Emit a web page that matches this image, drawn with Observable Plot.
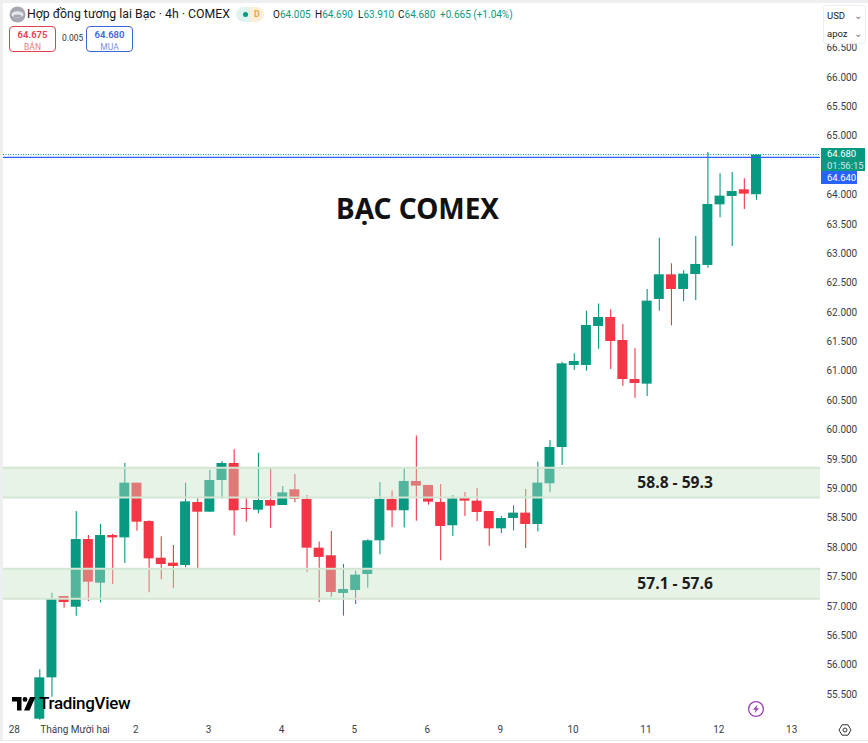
<!DOCTYPE html>
<html lang="vi"><head><meta charset="utf-8">
<script src="https://cdn.jsdelivr.net/npm/d3@7"></script>
<script src="https://cdn.jsdelivr.net/npm/@observablehq/plot@0.6"></script>
<style>
html,body{margin:0;padding:0;background:#fff;overflow:hidden}
#page{position:relative;width:868px;height:743px;overflow:hidden;font-family:Roboto,"Noto Sans",sans-serif;color:#131722}
#page svg.plot{position:absolute;left:0;top:0}
.a{position:absolute;white-space:nowrap}
.tag{position:absolute;box-sizing:border-box;border-radius:4px;background:#fff;text-align:center;width:47px;height:26px;top:26px;font-weight:600;font-size:9.5px;line-height:12px;padding-top:2px}
.tag span{display:block;font-weight:400;font-size:8.5px;opacity:.7}
.g{color:#089981}
</style></head><body><div id="page"></div>
<script>
// Candles: open, high, low, close
const open  = [55.079,55.783,57.167,56.985,58.137,57.394,58.205,58.165,59.096,58.443,57.819,57.734,57.695,58.767,58.602,59.141,59.431,58.665,58.636,58.801,58.716,58.983,58.819,57.990,57.860,57.219,57.270,57.542,58.115,58.819,58.626,59.125,59.057,58.768,58.371,58.841,58.790,58.614,58.319,58.495,58.586,58.393,59.085,59.703,61.099,61.099,61.762,61.916,61.524,60.860,60.781,62.222,62.642,62.392,62.647,62.801,63.833,63.975,64.088,64.005];
const high  = [55.919,57.224,57.167,58.614,58.205,58.392,58.228,59.431,59.096,58.455,58.182,58.035,59.096,58.846,59.311,59.465,59.663,58.846,59.606,59.357,59.039,59.244,58.887,58.093,58.274,57.712,57.599,58.132,59.108,58.961,59.352,59.897,59.057,59.074,58.887,58.938,59.006,58.614,58.529,58.711,58.989,59.454,59.823,61.155,61.297,62.023,62.143,62.046,61.796,61.388,62.392,63.266,62.829,62.710,63.294,64.724,64.361,64.383,64.276,64.690];
const low   = [55.060,55.454,56.968,56.832,57.082,57.059,57.371,57.729,58.279,57.229,57.451,57.309,57.655,57.638,58.602,58.824,58.200,58.432,58.574,58.330,58.716,58.762,57.582,57.066,57.156,56.833,57.032,57.310,57.877,58.342,58.331,58.450,58.722,57.775,58.189,58.529,58.444,58.024,58.240,58.285,57.985,58.263,58.932,59.397,61.014,61.002,61.377,61.031,60.747,60.543,60.571,62.023,61.774,62.182,62.205,62.755,63.612,63.124,63.754,63.910];
const close = [55.783,57.122,57.065,58.137,57.411,58.205,58.165,59.096,58.432,57.808,57.712,57.678,58.778,58.602,59.141,59.431,58.625,58.648,58.801,58.704,58.931,58.819,57.990,57.832,57.236,57.287,57.531,58.115,58.819,58.626,59.125,59.046,58.773,58.359,58.830,58.790,58.597,58.319,58.495,58.586,58.393,59.097,59.704,61.127,61.167,61.779,61.916,61.507,60.860,60.792,62.194,62.642,62.392,62.653,62.818,63.839,63.981,64.060,64.015,64.680];
// Time axis
const dayTickIndex = [-2,3,8,14,20,26,32,38,44,50,56,62];
const dayTickLabel = ["28","Tháng Mười hai","2","3","4","5","6","9","10","11","12","13"];
// Support/resistance zones
const zoneLow   = [58.853,57.128];
const zoneHigh  = [59.358,57.639];
const zoneLabel = ["58.8 - 59.3","57.1 - 57.6"];
const zoneLabelIndex = 52.3;
// Price axis (64.500 sits behind the price tags in the reference)
const priceTicks = [55.5,56,56.5,57,57.5,58,58.5,59,59.5,60,60.5,61,61.5,62,62.5,63,63.5,64,65,65.5,66,66.5];
const lastPrice = 64.68, bluePrice = 64.64;
const title = "BẠC COMEX", titleIndex = 31.1, titlePrice = 63.75;

const candles = open.map((o,i)=>({i,o,h:high[i],l:low[i],c:close[i]}));
const up = candles.filter(d=>d.c>=d.o), down = candles.filter(d=>d.c<d.o);
const zones = zoneLow.map((l,k)=>({l,h:zoneHigh[k],label:zoneLabel[k]}));
const GREEN="#089981", RED="#f23645", FONT='Roboto,"Noto Sans",sans-serif';
const W=.41;
const chart = Plot.plot({
  width:868,height:743,
  marginLeft:3,marginRight:48,marginTop:5,marginBottom:23,
  style:{background:"transparent",fontFamily:FONT,overflow:"hidden"},
  x:{type:"linear",domain:[-2.988,64.27]},
  y:{type:"linear",domain:[55.057,67.225]},
  marks:[
    Plot.ruleX(up,{x:"i",y1:"l",y2:"h",stroke:GREEN,strokeWidth:1.1}),
    Plot.ruleX(down,{x:"i",y1:"l",y2:"h",stroke:RED,strokeWidth:1.1}),
    Plot.rect(up,{x1:d=>d.i-W,x2:d=>d.i+W,y1:"o",y2:"c",fill:GREEN}),
    Plot.rect(down,{x1:d=>d.i-W,x2:d=>d.i+W,y1:"o",y2:"c",fill:RED}),
    Plot.rect(zones,{x1:-2.988,x2:64.27,y1:"l",y2:"h",fill:"#c5e1c5",fillOpacity:.4}),
    Plot.ruleY(zones.flatMap(z=>[z.l,z.h]),{stroke:"#d3e6d3",strokeWidth:2}),
    Plot.ruleY([lastPrice],{stroke:GREEN,strokeDasharray:"1,1.5",strokeWidth:1,dy:-.5}),
    Plot.ruleY([bluePrice],{stroke:"#2962ff",strokeWidth:1.3}),
    Plot.text(zones,{x:zoneLabelIndex,y:d=>(d.l+d.h)/2,text:"label",fontSize:15.6,fontWeight:700,fontFamily:'"Open Sans"',fill:"#1c1c1c"}),
    Plot.text([title],{x:titleIndex,y:titlePrice,text:d=>d,fontSize:28,fontWeight:700,fontFamily:'"Noto Sans"',fill:"#111"}),
    Plot.axisY(priceTicks,{anchor:"right",tickSize:0,tickPadding:6,tickFormat:d3.format(".3f"),label:null,fontSize:10,fill:"#3a3e48",textAnchor:"start"}),
    Plot.axisX(dayTickIndex,{anchor:"bottom",tickSize:0,tickPadding:5,dx:-1.2,label:null,fontSize:10,fill:"#3a3e48",
      tickFormat:d=>dayTickLabel[dayTickIndex.indexOf(d)]})
  ]
});
const page=document.getElementById("page");
page.appendChild(chart);
page.insertAdjacentHTML("beforeend",`
<div class="a" style="left:0;top:0;width:868px;height:3px;background:#eeeff1"></div>
<div class="a" style="left:0;top:0;width:3px;height:740px;background:#eeeff1"></div>
<div class="a" style="left:0;top:740px;width:868px;height:1px;background:#e8e9ec"></div>
<svg class="a" style="left:9px;top:6px" width="17" height="17" viewBox="0 0 17 17"><circle cx="8.5" cy="8.5" r="8" fill="#a5a8b0"/><ellipse cx="8.5" cy="8.5" rx="6" ry="3.2" fill="#e6e7ea"/><ellipse cx="8.5" cy="10" rx="4" ry="1.6" fill="#a5a8b0"/></svg>
<div class="a" style="left:27px;top:6px;font-size:12.3px;line-height:16px;color:#131722">Hợp đồng tương lai Bạc · 4h · COMEX</div>
<div class="a" style="left:236px;top:7px;width:28px;height:15px;border-radius:8px;background:linear-gradient(90deg,#e0f3ef 50%,#fdeeda 50%)"></div>
<div class="a" style="left:243px;top:12px;width:5px;height:5px;border-radius:50%;background:#089981"></div>
<div class="a" style="left:254px;top:8px;font-size:9px;line-height:13px;font-weight:700;color:#f5a33c">D</div>
<div class="a" style="left:273px;top:8px;font-size:10px;line-height:13px;color:#131722">O<span class="g">64.005</span></div>
<div class="a" style="left:315px;top:8px;font-size:10px;line-height:13px;color:#131722">H<span class="g">64.690</span></div>
<div class="a" style="left:358px;top:8px;font-size:10px;line-height:13px;color:#131722">L<span class="g">63.910</span></div>
<div class="a" style="left:398px;top:8px;font-size:10px;line-height:13px;color:#131722">C<span class="g">64.680</span></div>
<div class="a g" style="left:440px;top:8px;font-size:10px;line-height:13px">+0.665 (+1.04%)</div>
<div class="tag" style="left:9px;border:1px solid #e2404f;color:#e2404f">64.675<span>BÁN</span></div>
<div class="a" style="left:62px;top:32px;font-size:8.5px;line-height:12px;color:#333">0.005</div>
<div class="tag" style="left:86px;border:1px solid #3d66d8;color:#3d66d8">64.680<span>MUA</span></div>
<div class="a" style="left:823px;top:5px;width:43px;height:39px;background:#fff;border:1px solid #eceef1;border-radius:3px;box-sizing:border-box;font-size:9.5px;line-height:18px;padding:1px 0 0 3px;color:#222">USD<span style="position:absolute;right:3px;color:#777">⌄</span><br>apoz<span style="position:absolute;right:3px;color:#777">⌄</span></div>
<div class="a" style="left:821px;top:148px;width:44px;height:23px;background:#089981;color:#fff;font-size:9.5px;line-height:11.5px;padding-left:6px;box-sizing:border-box">64.680<br><span style="opacity:.8">01:56:15</span></div>
<div class="a" style="left:821px;top:171px;width:36px;height:13px;background:#2962ff;color:#fff;font-size:9.5px;line-height:13px;padding-left:6px;box-sizing:border-box">64.640</div>
<svg class="a" style="left:12px;top:697px" width="24" height="14" viewBox="0 0 24 14"><path d="M0 0h9.5v13.5H5V4.5H0z" fill="#000"/><circle cx="13" cy="2.4" r="2.4" fill="#000"/><path d="M18 0h5.5L17.5 13.5H12z" fill="#000"/></svg>
<div class="a" style="left:39px;top:693px;font-size:17px;line-height:20px;font-weight:500;color:#000;letter-spacing:-.3px">TradingView</div>
<svg class="a" style="left:747px;top:700px" width="18" height="18" viewBox="0 0 18 18"><circle cx="9" cy="9" r="7.4" fill="#fff" stroke="#9c3fb5" stroke-width="1.3"/><path d="M10.5 4.5 6 9.8h2.7L7.5 13.5 12 8.2H9.3z" fill="#9c3fb5"/></svg>
<svg class="a" style="left:838px;top:723px" width="14" height="14" viewBox="0 0 14 14"><path d="M4 1.8h6L13 7l-3 5.2H4L1 7z" fill="none" stroke="#333" stroke-width="1"/><circle cx="7" cy="7" r="2" fill="none" stroke="#333" stroke-width="1"/></svg>
`);
</script></body></html>
